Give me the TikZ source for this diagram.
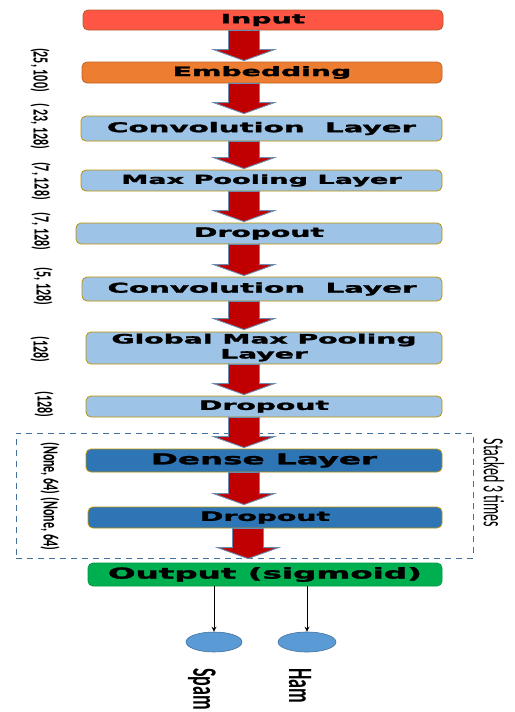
\documentclass[tikz,border=0pt]{standalone}
\usepackage{fontspec}
\setmainfont{DejaVu Sans}[BoldFeatures={FakeBold=1.5}]
\newfontfamily\lblfont{Carlito}
\usetikzlibrary{calc,arrows.meta,shapes.geometric}

\definecolor{inred}{HTML}{FF5544}
\definecolor{inedge}{HTML}{B0602A}
\definecolor{embor}{HTML}{ED7D31}
\definecolor{lblue}{HTML}{9DC3E6}
\definecolor{dblue}{HTML}{2E75B6}
\definecolor{ogreen}{HTML}{00B050}
\definecolor{goldline}{HTML}{BF9000}
\definecolor{arrred}{HTML}{C00000}
\definecolor{arrline}{HTML}{6A8BB0}
\definecolor{dashblue}{HTML}{41719C}
\definecolor{leafblue}{HTML}{5B9BD5}

% wide, stretched bold caption inside a layer box
\newcommand\wide[2][13]{\fontsize{#1}{#1}\selectfont\scalebox{2.17}[1]{#2}}
% condensed (tall) caption used for the rotated shape labels
\newcommand\tall[2]{\scalebox{1}[#1]{#2}}

% red block arrow between two layers, at horizontal position #1
\newcommand\flowarrow[4][244]{%
  \draw[blockarrow] let \p1=(#2.south), \p2=(#3.north) in
    (#1-15.5,\y1) -- (#1+15.5,\y1) -- (#1+15.5,\y2+#4+11) -- (#1+30.5,\y2+#4+11)
    -- (#1,\y2+#4) -- (#1-30.5,\y2+#4+11) -- (#1-15.5,\y2+#4+11) -- cycle;}

\tikzset{
  layer/.style={rectangle, rounded corners=5pt, draw=goldline, line width=0.8pt,
    inner sep=0pt, font=\bfseries},
  blockarrow/.style={fill=arrred, draw=arrline, line width=0.9pt, line join=miter},
  shapelbl/.style={rotate=-90, inner sep=0pt, font=\lblfont\bfseries\fontsize{12}{12}\selectfont},
  leaf/.style={ellipse, fill=leafblue, draw=dashblue, line width=0.6pt, inner sep=0pt},
  leaflbl/.style={rotate=-90, inner sep=0pt, font=\lblfont\bfseries\fontsize{18}{18}\selectfont},
  thinarrow/.style={line width=0.8pt, -{Stealth[length=5pt,width=5pt]}}
}

\begin{document}
\begin{tikzpicture}[x=1pt, y=1pt]
\useasboundingbox (0,0) rectangle (514,-712);

% repeated block (dense + dropout)
\node[draw=dashblue, line width=0.9pt, dash pattern=on 6pt off 5pt,
      minimum width=457, minimum height=125, inner sep=0pt] (stack) at (244.5,-495.5) {};

% layers
\node[layer, fill=inred, draw=inedge, minimum width=360, minimum height=20] (input) at (263,-20) {\wide{Input}};
\node[layer, fill=embor, draw=embor!80!black, minimum width=360, minimum height=21] (embed) at (262,-72.5) {\wide{Embedding}};
\node[layer, fill=lblue, minimum width=361, minimum height=25] (conv1) at (261.5,-128.5) {\wide[13.5]{Convolution\ \ Layer}};
\node[layer, fill=lblue, minimum width=361, minimum height=21] (pool1) at (261.5,-180.5) {\wide[12.5]{Max Pooling Layer}};
\node[layer, fill=lblue, minimum width=366, minimum height=21] (drop1) at (259,-233.5) {\wide{Dropout}};
\node[layer, fill=lblue, minimum width=360, minimum height=24] (conv2) at (262,-289) {\wide[13.5]{Convolution\ \ Layer}};
\node[layer, fill=lblue, minimum width=356, minimum height=32] (gpool) at (264,-348)
  {\fontsize{13}{15}\selectfont\scalebox{2.17}[1]{\begin{tabular}{@{}c@{}}Global Max Pooling\\Layer\end{tabular}}};
\node[layer, fill=lblue, minimum width=356, minimum height=21] (drop2) at (264,-406.5) {\wide{Dropout}};
\node[layer, fill=dblue, minimum width=356, minimum height=23] (dense) at (264,-460.5) {\wide[15]{Dense Layer}};
\node[layer, fill=dblue, minimum width=354, minimum height=21] (drop3) at (265,-517.5) {\wide{Dropout}};
\node[layer, fill=ogreen, draw=ogreen!85!black, minimum width=354, minimum height=23] (output) at (265,-574.5) {\wide[15]{Output (sigmoid)}};

% flow between layers
\flowarrow{input}{embed}{1}
\flowarrow{embed}{conv1}{2}
\flowarrow{conv1}{pool1}{1}
\flowarrow{pool1}{drop1}{1}
\flowarrow{drop1}{conv2}{1}
\flowarrow{conv2}{gpool}{2}
\flowarrow{gpool}{drop2}{1}
\flowarrow{drop2}{dense}{1}
\flowarrow{dense}{drop3}{2}
\flowarrow[248]{drop3}{output}{4}

% output shapes
\node[shapelbl] (s1) at (40,-70)    {\tall{1.8}{(25, 100)}};
\node[shapelbl] (s2) at (40,-126.5) {\tall{1.8}{( 23, 128)}};
\node[shapelbl] (s3) at (41,-181)   {\tall{1.8}{(7, 128)}};
\node[shapelbl] (s4) at (41,-231.5) {\tall{1.8}{(7, 128)}};
\node[shapelbl] (s5) at (43,-286.5) {\tall{1.8}{(5, 128)}};
\node[shapelbl] (s6) at (40,-349.5) {\tall{1.8}{(128)}};
\node[shapelbl] (s7) at (44,-404.5) {\tall{1.8}{(128)}};
\node[shapelbl] (s8) at (50,-468.5) {\tall{1.8}{(None, 64)}};
\node[shapelbl] (s9) at (50,-524)   {\tall{1.8}{(None, 64)}};

\node[rotate=-90, inner sep=0pt, font=\lblfont\fontsize{14}{14}\selectfont] (times) at (494,-483) {\tall{2.1}{Stacked 3 times}};

% classes
\node[leaf, minimum width=56, minimum height=20] (spam) at (214,-642) {};
\node[leaf, minimum width=58, minimum height=20] (ham)  at (307,-642) {};
\draw[thinarrow] (output.south -| spam.north) -- (spam.north);
\draw[thinarrow] (output.south -| ham.north) -- (ham.north);
\node[leaflbl] (spamlbl) at (202,-689) {\tall{1.9}{Spam}};
\node[leaflbl] (hamlbl)  at (300,-686) {\tall{1.9}{Ham}};
\end{tikzpicture}
\end{document}
